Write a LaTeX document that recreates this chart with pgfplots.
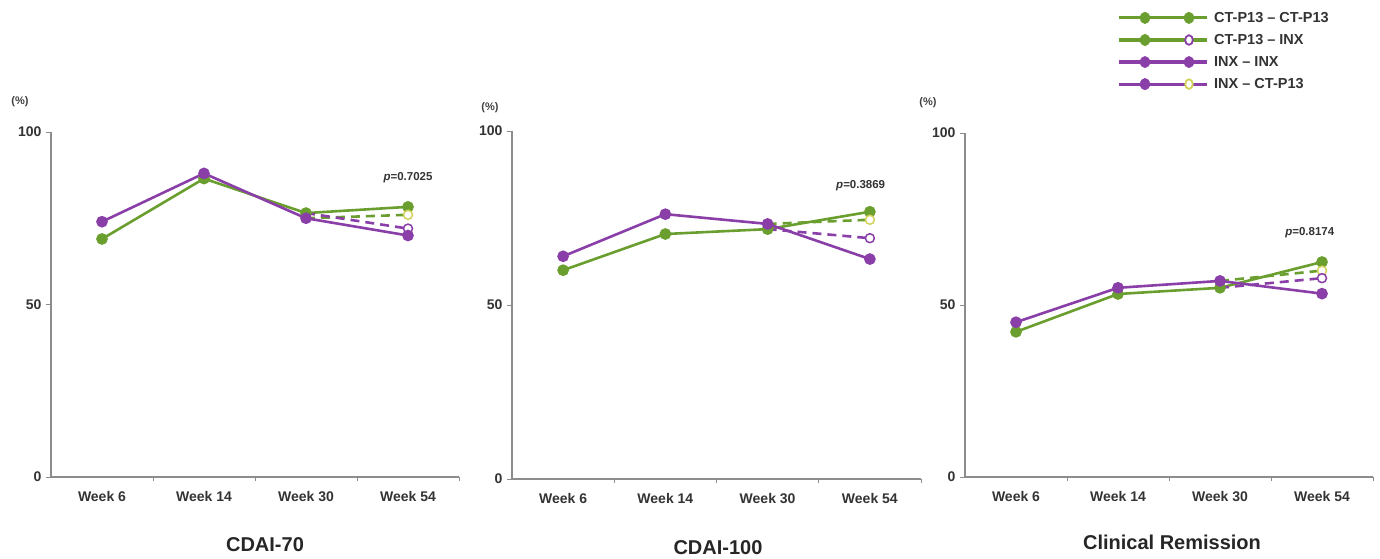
\documentclass[border=0pt]{standalone}
\usepackage{pgfplots}
\pgfplotsset{compat=1.18}
\usepackage{fontspec}
\setmainfont{Liberation Sans}
\definecolor{cg}{RGB}{106,158,46}
\definecolor{cp}{RGB}{138,62,168}
\definecolor{cy}{RGB}{210,210,90}
\definecolor{axg}{RGB}{140,140,140}
\tikzset{pval/.style={font=\fontsize{11.5}{13}\selectfont\bfseries, text=black!80}}
\pgfplotsset{
  panel/.style={
    scale only axis, anchor=south west, clip=false,
    xmin=-0.5, xmax=3.5, ymin=0, ymax=100,
    axis x line*=bottom, axis y line*=left,
    axis line style={axg, line width=1.2pt, -},
    xtick={0,1,2,3}, xticklabels={Week 6,Week 14,Week 30,Week 54},
    minor xtick={0.5,1.5,2.5,3.5},
    major x tick style={draw=none},
    minor x tick style={axg, line width=1pt},
    minor tick length=4pt,
    ytick={0,50,100},
    y tick style={axg, line width=1pt},
    major tick length=5pt,
    tick align=outside,
    tick label style={font=\fontsize{14}{16}\selectfont\bfseries, text=black!80},
    xticklabel style={yshift=-6pt},
    yticklabel style={xshift=-1pt},
    /pgf/number format/assume math mode=true,
  },
  sg/.style={cg, line width=2.6pt, mark=*, mark size=4.5pt, mark options={solid}},
  sp/.style={cp, line width=2.6pt, mark=*, mark size=4.5pt, mark options={solid}},
  dg/.style={cg, line width=2.6pt, dash pattern=on 9pt off 6pt, mark=*, mark size=4.5pt, mark indices={2},
     mark options={solid, draw=cy, fill=white, line width=1.5pt}},
  dp/.style={cp, line width=2.6pt, dash pattern=on 9pt off 6pt, mark=*, mark size=4.5pt, mark indices={2},
     mark options={solid, draw=cp, fill=white, line width=1.5pt}},
}
\begin{document}
\begin{tikzpicture}
\path[use as bounding box] (0,0) rectangle (1380pt,558pt);

% Panel 1
\begin{axis}[panel, at={(51pt,81pt)}, width=408pt, height=345pt]
\addplot[sg] coordinates {(0,69) (1,86.5) (2,76.5) (3,78.3)};
\addplot[dg] coordinates {(2,75) (3,76)};
\addplot[dp] coordinates {(2,76.5) (3,72)};
\addplot[sp] coordinates {(0,74) (1,88) (2,75) (3,70)};
\node[pval] at (axis cs:3,86.7) {\textit{p}=0.7025};
\end{axis}

% Panel 2
\begin{axis}[panel, at={(512pt,79pt)}, width=409pt, height=348pt]
\addplot[sg] coordinates {(0,60) (1,70.4) (2,71.8) (3,76.8)};
\addplot[dg] coordinates {(2,73.3) (3,74.5)};
\addplot[dp] coordinates {(2,71.8) (3,69.2)};
\addplot[sp] coordinates {(0,64) (1,76.1) (2,73.3) (3,63.2)};
\node[pval] at (axis cs:2.91,84.2) {\textit{p}=0.3869};
\end{axis}

% Panel 3
\begin{axis}[panel, at={(965pt,81pt)}, width=408pt, height=344pt,
  legend style={at={(axis description cs:0.373,1.355)}, anchor=north west,
    draw=none, fill=none, inner sep=0pt, row sep=8.5pt,
    font=\fontsize{14.5}{16}\selectfont\bfseries, text=black!80,
    nodes={inner sep=1pt, anchor=west}},
  legend cell align=left]
\addlegendimage{legend image code/.code={\draw[cg,line width=3.2pt] (0pt,0pt)--(88pt,0pt); \fill[cg] (26pt,0pt) ellipse (4.8pt and 5.8pt); \fill[cg] (70pt,0pt) ellipse (4.8pt and 5.8pt); \path (94pt,0pt);}}
\addlegendentry{CT-P13 -- CT-P13}
\addlegendimage{legend image code/.code={\draw[cg,line width=3.2pt] (0pt,0pt)--(88pt,0pt); \fill[cg] (26pt,0pt) ellipse (4.8pt and 5.8pt); \draw[cp,fill=white,line width=1.8pt] (70pt,0pt) ellipse (3.8pt and 4.8pt); \path (94pt,0pt);}}
\addlegendentry{CT-P13 -- INX}
\addlegendimage{legend image code/.code={\draw[cp,line width=3.2pt] (0pt,0pt)--(88pt,0pt); \fill[cp] (26pt,0pt) ellipse (4.8pt and 5.8pt); \fill[cp] (70pt,0pt) ellipse (4.8pt and 5.8pt); \path (94pt,0pt);}}
\addlegendentry{INX -- INX}
\addlegendimage{legend image code/.code={\draw[cp,line width=3.2pt] (0pt,0pt)--(88pt,0pt); \fill[cp] (26pt,0pt) ellipse (4.8pt and 5.8pt); \draw[cy,fill=white,line width=1.8pt] (70pt,0pt) ellipse (3.8pt and 4.8pt); \path (94pt,0pt);}}
\addlegendentry{INX -- CT-P13}
\addplot[sg, forget plot] coordinates {(0,42.2) (1,53.2) (2,55) (3,62.5)};
\addplot[dg, forget plot] coordinates {(2,57) (3,60)};
\addplot[dp, forget plot] coordinates {(2,55) (3,57.8)};
\addplot[sp, forget plot] coordinates {(0,45) (1,55) (2,57) (3,53.3)};
\node[pval] at (axis cs:2.88,70.9) {\textit{p}=0.8174};
\end{axis}

% Unit labels and titles
\node[font=\fontsize{11}{13}\selectfont\bfseries, text=black!75] at (20pt,456pt) {(\%)};
\node[font=\fontsize{11}{13}\selectfont\bfseries, text=black!75] at (490pt,450pt) {(\%)};
\node[font=\fontsize{11}{13}\selectfont\bfseries, text=black!75] at (928pt,455pt) {(\%)};
\node[font=\fontsize{20}{24}\selectfont\bfseries, text=black!85] at (265pt,13pt) {CDAI-70};
\node[font=\fontsize{20}{24}\selectfont\bfseries, text=black!85] at (718pt,10pt) {CDAI-100};
\node[font=\fontsize{20}{24}\selectfont\bfseries, text=black!85] at (1172pt,16pt) {Clinical Remission};
\end{tikzpicture}
\end{document}
